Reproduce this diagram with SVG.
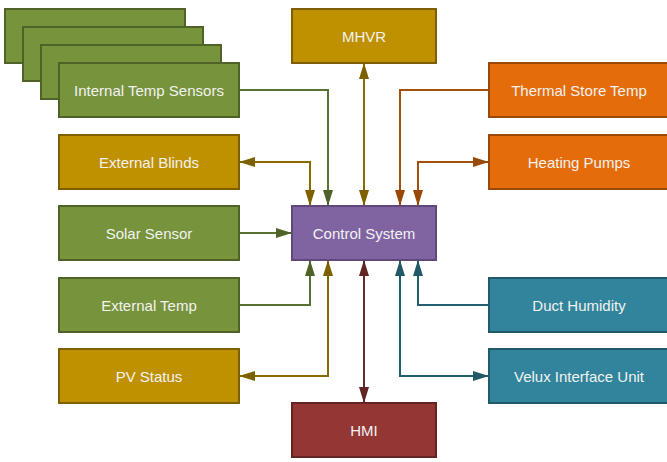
<svg xmlns="http://www.w3.org/2000/svg" width="667" height="462" viewBox="0 0 667 462">
<defs>
<style>
text{font-family:"Liberation Sans",Arial,sans-serif;font-size:15px;fill:#f2f2f2;text-anchor:middle;dominant-baseline:central}
.g rect{fill:#77933c;stroke:#4f6228;stroke-width:2}
.y rect{fill:#bf9000;stroke:#7f6000;stroke-width:2}
.o rect{fill:#e46c0a;stroke:#984807;stroke-width:2}
.t rect{fill:#31849b;stroke:#215968;stroke-width:2}
.r rect{fill:#943634;stroke:#632523;stroke-width:2}
.p rect{fill:#8064a2;stroke:#5f497a;stroke-width:2}
#connectors path{fill:none;stroke-width:2}
.cg{stroke:#5a7230}.cy{stroke:#8a6a00}.co{stroke:#a5500a}.ct{stroke:#23606f}.cr{stroke:#6b2a28}
</style>
<marker id="ag" viewBox="0 0 16 10" refX="16" refY="5" markerWidth="16" markerHeight="10" markerUnits="userSpaceOnUse" orient="auto-start-reverse"><path d="M0,0L16,5L0,10Z" fill="#4f6228"/></marker>
<marker id="ay" viewBox="0 0 16 10" refX="16" refY="5" markerWidth="16" markerHeight="10" markerUnits="userSpaceOnUse" orient="auto-start-reverse"><path d="M0,0L16,5L0,10Z" fill="#7f6000"/></marker>
<marker id="ao" viewBox="0 0 16 10" refX="16" refY="5" markerWidth="16" markerHeight="10" markerUnits="userSpaceOnUse" orient="auto-start-reverse"><path d="M0,0L16,5L0,10Z" fill="#984807"/></marker>
<marker id="at" viewBox="0 0 16 10" refX="16" refY="5" markerWidth="16" markerHeight="10" markerUnits="userSpaceOnUse" orient="auto-start-reverse"><path d="M0,0L16,5L0,10Z" fill="#215968"/></marker>
<marker id="ar" viewBox="0 0 16 10" refX="16" refY="5" markerWidth="16" markerHeight="10" markerUnits="userSpaceOnUse" orient="auto-start-reverse"><path d="M0,0L16,5L0,10Z" fill="#632523"/></marker>
</defs>
<rect width="667" height="462" fill="#ffffff"/>
<g id="connectors">
<path class="cg" d="M239,90H328V206" marker-end="url(#ag)"/>
<path class="cy" d="M239,162H310V206" marker-start="url(#ay)" marker-end="url(#ay)"/>
<path class="cy" d="M364,63V206" marker-start="url(#ay)" marker-end="url(#ay)"/>
<path class="co" d="M489,90H400V206" marker-end="url(#ao)"/>
<path class="co" d="M489,162H418V206" marker-start="url(#ao)" marker-end="url(#ao)"/>
<path class="cg" d="M239,233H292" marker-end="url(#ag)"/>
<path class="cg" d="M239,305H310V260" marker-end="url(#ag)"/>
<path class="cy" d="M239,376H328V260" marker-start="url(#ay)" marker-end="url(#ay)"/>
<path class="cr" d="M364,403V260" marker-start="url(#ar)" marker-end="url(#ar)"/>
<path class="ct" d="M489,305H418V260" marker-end="url(#at)"/>
<path class="ct" d="M489,376H400V260" marker-start="url(#at)" marker-end="url(#at)"/>
</g>
<g id="internal-temp-sensors" class="g">
<rect x="5" y="9" width="180" height="54"/>
<rect x="23" y="27" width="180" height="54"/>
<rect x="41" y="45" width="180" height="54"/>
<rect x="59" y="63" width="180" height="54"/>
<text x="149" y="90">Internal Temp Sensors</text>
</g>
<g id="external-blinds" class="y"><rect x="59" y="135" width="180" height="54"/><text x="149" y="162">External Blinds</text></g>
<g id="solar-sensor" class="g"><rect x="59" y="206" width="180" height="54"/><text x="149" y="233">Solar Sensor</text></g>
<g id="external-temp" class="g"><rect x="59" y="278" width="180" height="54"/><text x="149" y="305">External Temp</text></g>
<g id="pv-status" class="y"><rect x="59" y="349" width="180" height="54"/><text x="149" y="376">PV Status</text></g>
<g id="mhvr" class="y"><rect x="292" y="9" width="144" height="54"/><text x="364" y="36">MHVR</text></g>
<g id="control-system" class="p"><rect x="292" y="206" width="144" height="54"/><text x="364" y="233">Control System</text></g>
<g id="hmi" class="r"><rect x="292" y="403" width="144" height="54"/><text x="364" y="430">HMI</text></g>
<g id="thermal-store-temp" class="o"><rect x="489" y="63" width="180" height="54"/><text x="579" y="90">Thermal Store Temp</text></g>
<g id="heating-pumps" class="o"><rect x="489" y="135" width="180" height="54"/><text x="579" y="162">Heating Pumps</text></g>
<g id="duct-humidity" class="t"><rect x="489" y="278" width="180" height="54"/><text x="579" y="305">Duct Humidity</text></g>
<g id="velux-interface-unit" class="t"><rect x="489" y="349" width="180" height="54"/><text x="579" y="376">Velux Interface Unit</text></g>
</svg>
